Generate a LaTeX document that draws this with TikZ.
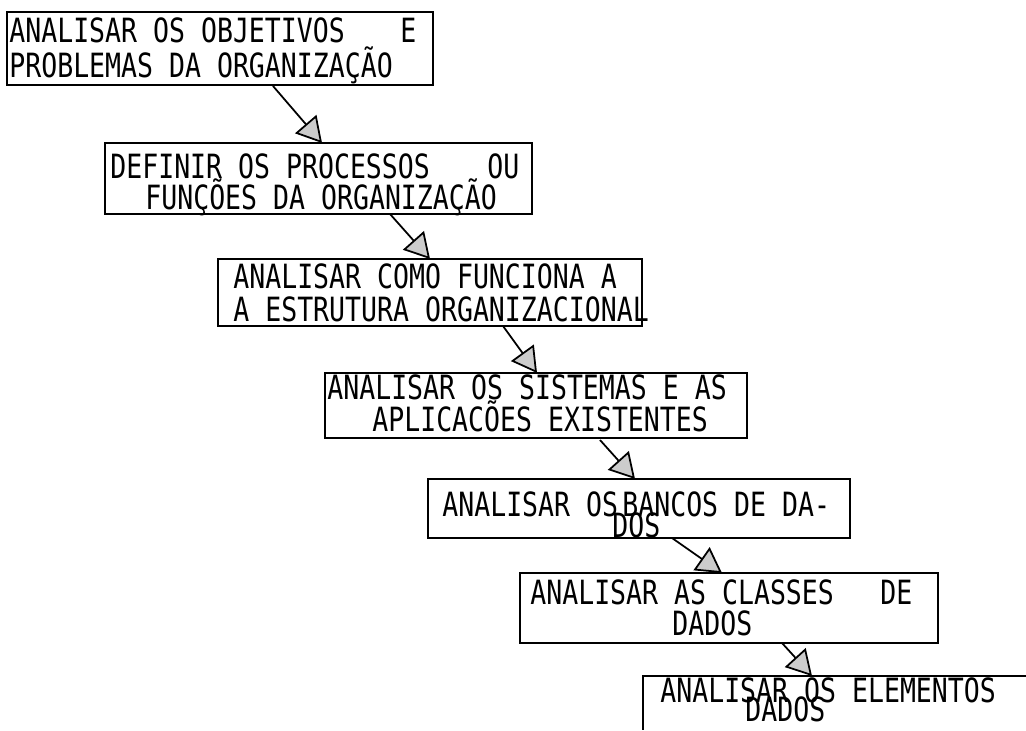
\documentclass[tikz,border=0pt]{standalone}
\usepackage{fontspec}
\newfontfamily\tw[FakeStretch=0.795]{DejaVu Sans Mono}
\usetikzlibrary{arrows.meta,fit}
\begin{document}
\begin{tikzpicture}[x=0.02cm,y=-0.02cm,
  box/.style={draw, line width=0.8pt, inner sep=0pt},
  boxline/.style={line width=0.8pt},
  txt/.style={anchor=base west, inner sep=0pt, font=\tw\fontsize{19}{22}\selectfont},
  arr/.style={line width=1pt, -{Triangle[length=0.5cm,width=0.56cm,fill=gray!40]}}]
\useasboundingbox (0,0) rectangle (1026,730);
% boxes
\node[box, fit={(7,12) (433,85)}] (b1) {};
\node[box, fit={(105,143) (532,214)}] (b2) {};
\node[box, fit={(218,259) (642,326)}] (b3) {};
\node[box, fit={(325,373) (747,438)}] (b4) {};
\node[box, fit={(428,479) (850,538)}] (b5) {};
\node[box, fit={(520,573) (938,643)}] (b6) {};
\coordinate (b7tl) at (643,676);
\coordinate (b7tr) at (1026,676);
\coordinate (b7bl) at (643,730);
\draw[boxline] (b7tr) -- (b7tl) -- (b7bl);
% texts
\node[txt] (t1a) at (9,42) {ANALISAR OS OBJETIVOS};
\node[txt] (t1b) at (400,42) {E};
\node[txt] (t1c) at (9,77) {PROBLEMAS DA ORGANIZAÇÃO};
\node[txt] (t2a) at (110,178) {DEFINIR OS PROCESSOS};
\node[txt] (t2b) at (487,178) {OU};
\node[txt] (t2c) at (145,209) {FUNÇÕES DA ORGANIZAÇÃO};
\node[txt] (t3a) at (233,288) {ANALISAR COMO FUNCIONA A};
\node[txt] (t3b) at (233,321) {A ESTRUTURA ORGANIZACIONAL};
\node[txt] (t4a) at (327,399) {ANALISAR OS SISTEMAS E AS};
\node[txt] (t4b) at (372,431) {APLICACÕES EXISTENTES};
\node[txt] (t5a) at (442,516) {ANALISAR OS};
\node[txt] (t5b) at (622,516) {BANCOS DE DA-};
\node[txt] (t5c) at (612,537) {DOS};
\node[txt] (t6a) at (530,604) {ANALISAR AS CLASSES};
\node[txt] (t6b) at (880,604) {DE};
\node[txt] (t6c) at (672,635) {DADOS};
\node[txt] (t7a) at (660,702) {ANALISAR OS ELEMENTOS};
\node[txt] (t7b) at (745,721) {DADOS};
% arrows
\coordinate (a1s) at (273,86);  \coordinate (a1e) at (322,143);
\coordinate (a2s) at (390,214); \coordinate (a2e) at (430,259);
\coordinate (a3s) at (503,326); \coordinate (a3e) at (537,373);
\coordinate (a4s) at (600,440); \coordinate (a4e) at (635,479);
\coordinate (a5s) at (672,538); \coordinate (a5e) at (722,573);
\coordinate (a6s) at (782,643); \coordinate (a6e) at (812,676);
\draw[arr] (a1s) -- (a1e);
\draw[arr] (a2s) -- (a2e);
\draw[arr] (a3s) -- (a3e);
\draw[arr] (a4s) -- (a4e);
\draw[arr] (a5s) -- (a5e);
\draw[arr] (a6s) -- (a6e);
\end{tikzpicture}
\end{document}
